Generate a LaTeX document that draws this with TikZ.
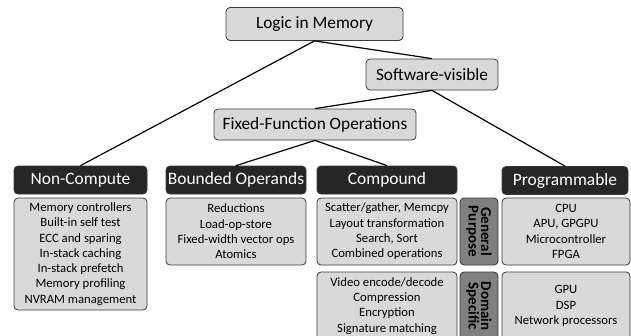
\documentclass[tikz,border=0pt]{standalone}
\usepackage{fontspec}
\setmainfont{Carlito}
\begin{document}
\begin{tikzpicture}[x=1pt,y=-1pt,
  base/.style={draw=black!78, line width=0.8pt, rounded corners=4pt, inner sep=0pt, align=center},
  topbox/.style={base, fill=black!15, font=\fontsize{17.3}{20}\selectfont},
  hdr/.style={base, fill=black!85, text=white, minimum height=28pt, font=\fontsize{17.4}{20}\selectfont},
  content/.style={base, fill=black!15, font=\fontsize{12.7}{15.3}\selectfont},
  vlabel/.style={base, fill=black!50, rotate=-90, minimum height=38pt, font=\bfseries\fontsize{15}{12.5}\selectfont},
  conn/.style={line width=1.2pt, black}]
\useasboundingbox (0,0) rectangle (631,335);
\node[topbox, minimum width=177pt, minimum height=33pt] (logic) at (314.5,24) {Logic in Memory};
\node[topbox, minimum width=132pt, minimum height=31pt] (sv) at (432,74.5) {Software-visible};
\node[topbox, minimum width=202pt, minimum height=31pt] (ff) at (315,124.5) {Fixed-Function Operations};
\node[hdr, minimum width=133pt] (nc) at (80.5,180) {Non-Compute};
\node[hdr, minimum width=140pt] (bo) at (236,180) {Bounded Operands};
\node[hdr, minimum width=140pt] (co) at (387,180) {Compound};
\node[hdr, minimum width=126pt] (pr) at (565,180.5) {Programmable};
\node[content, minimum width=133pt, minimum height=112pt] (ncc) at (80.5,254) {Memory controllers\\Built-in self test\\ECC and sparing\\In-stack caching\\In-stack prefetch\\Memory profiling\\NVRAM management};
\node[content, minimum width=140pt, minimum height=67pt] (boc) at (236,231.5) {Reductions\\Load-op-store\\Fixed-width vector ops\\Atomics};
\node[content, minimum width=140pt, minimum height=67pt] (cou) at (387,231.5) {Scatter/gather, Memcpy\\Layout transformation\\Search, Sort\\Combined operations};
\node[vlabel, minimum width=67pt] (gp) at (479,231.5) {General\\Purpose};
\node[content, minimum width=128pt, minimum height=67pt] (pru) at (566,231.5) {CPU\\APU, GPGPU\\Microcontroller\\FPGA};
\node[content, minimum width=140pt, minimum height=68pt] (col) at (387,306) {Video encode/decode\\Compression\\Encryption\\Signature matching};
\node[vlabel, minimum width=68pt] (ds) at (479,306) {Domain\\Specific};
\node[content, minimum width=128pt, minimum height=68pt] (prl) at (566,306) {GPU\\DSP\\Network processors};
\draw[conn] (logic.south) -- (nc.north);
\draw[conn] (logic.south) -- (sv.north);
\draw[conn] (sv.south) -- (ff.north);
\draw[conn] (sv.south) -- (pr.north);
\draw[conn] (ff.south) -- (bo.north);
\draw[conn] (ff.south) -- (co.north);
\end{tikzpicture}
\end{document}
